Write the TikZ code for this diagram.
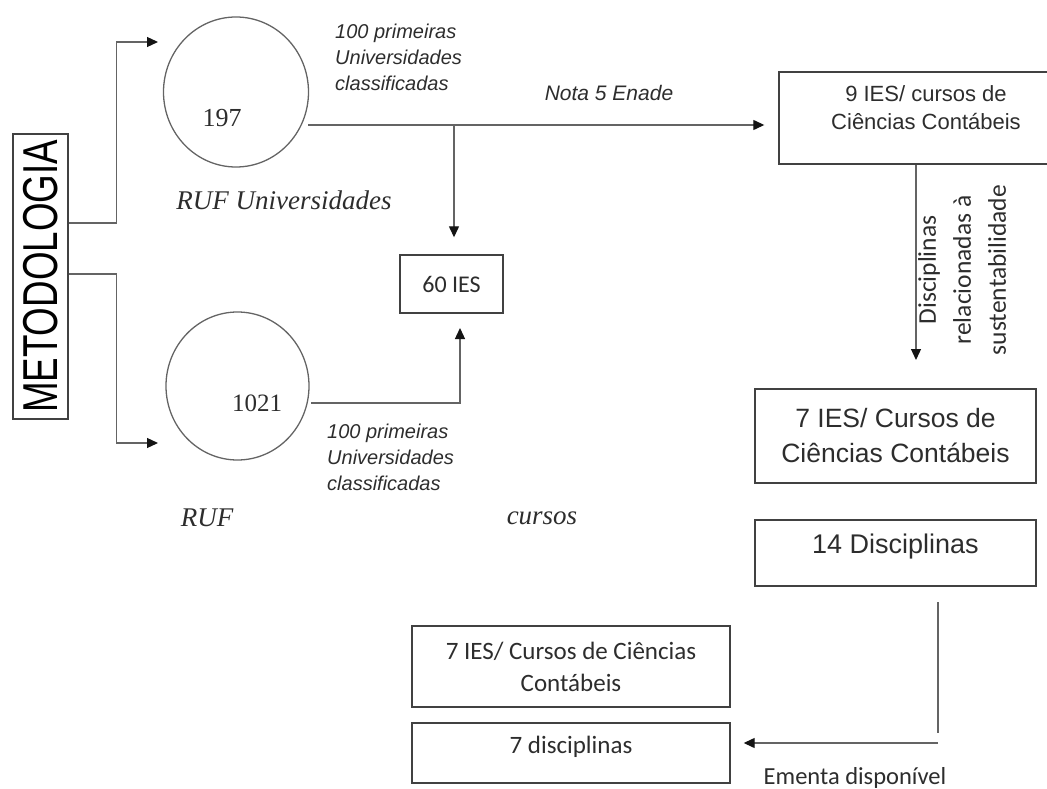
\documentclass[tikz,border=0pt]{standalone}
\usepackage{fontspec}
\setmainfont{Liberation Serif}
\newfontfamily\arial{Liberation Sans}
\newfontfamily\calib{Carlito}
\usetikzlibrary{arrows.meta,shapes.geometric}
\definecolor{linegray}{RGB}{100,100,100}
\definecolor{boxgray}{RGB}{65,65,65}
\definecolor{txtgray}{RGB}{45,45,45}
\definecolor{tipgray}{RGB}{20,20,20}
\begin{document}
\begin{tikzpicture}[x=1pt,y=-1pt,
  conn/.style={draw=linegray,line width=1.3pt},
  arr/.style={conn,-{Triangle[length=11pt,width=10pt,color=tipgray]}},
  boxnode/.style={draw=boxgray,line width=1.4pt,rectangle,inner sep=0pt},
  circnode/.style={draw=linegray,line width=1.3pt,ellipse,inner sep=0pt},
  itlabel/.style={font=\arial\itshape\fontsize{20}{26}\selectfont,text=txtgray,align=left,inner sep=0pt},
  serifit/.style={font=\itshape\fontsize{27}{32}\selectfont,text=txtgray,inner sep=0pt}]
\useasboundingbox (0,0) rectangle (1047,789);
\begin{scope}
\clip (0,0) rectangle (1047,789);
% nodes
\node[boxnode,rotate=90,minimum width=285pt,minimum height=55pt,
      font=\arial\fontsize{49}{55}\selectfont,text=black] (metod) at (40.5,276.5)
      {\scalebox{0.75}[1]{METODOLOGIA}};
\node[circnode,minimum width=145pt,minimum height=150pt] (c197) at (236,92) {};
\node[font=\fontsize{26}{30}\selectfont,text=txtgray] (t197) at (222,118) {197};
\node[circnode,minimum width=143pt,minimum height=148pt] (c1021) at (237.5,386) {};
\node[font=\fontsize{25}{30}\selectfont,text=txtgray] (t1021) at (257,403) {1021};
\node[boxnode,minimum width=103pt,minimum height=58pt,
      font=\calib\fontsize{24}{28}\selectfont,text=txtgray] (ies60) at (451.5,284) {60 IES};
\node[boxnode,minimum width=280pt,minimum height=92pt] (ies9) at (919,118) {};
\node[font=\arial\fontsize{22}{28}\selectfont,align=center,text=txtgray] (t9) at (926,108)
      {9 IES/ cursos de\\Ciências Contábeis};
\node[boxnode,minimum width=281pt,minimum height=94pt,
      font=\arial\fontsize{26.5}{35}\selectfont,align=center,text=txtgray] (ies7r) at (895.5,436)
      {7 IES/ Cursos de\\Ciências Contábeis};
\node[boxnode,minimum width=281pt,minimum height=66pt] (disc14) at (895.5,553) {};
\node[font=\arial\fontsize{27}{32}\selectfont,text=txtgray] (t14) at (895.5,547) {14 Disciplinas};
\node[boxnode,minimum width=318pt,minimum height=81pt,
      font=\calib\fontsize{25}{32}\selectfont,align=center,text=txtgray] (ies7b) at (571,666.5)
      {7 IES/ Cursos de Ciências\\Contábeis};
\node[boxnode,minimum width=318pt,minimum height=60pt] (disc7) at (571,753) {};
\node[font=\calib\fontsize{25}{30}\selectfont,text=txtgray] (t7d) at (571,747) {7 disciplinas};
% labels
\node[itlabel,anchor=north west] (lab1) at (335,24) {100 primeiras\\Universidades\\classificadas};
\node[itlabel,anchor=north west] (lab2) at (327,424) {100 primeiras\\Universidades\\classificadas};
\node[font=\arial\itshape\fontsize{21}{26}\selectfont,text=txtgray] (nota) at (609,93) {Nota 5 Enade};
\node[serifit] (rufu) at (284,200) {RUF Universidades};
\node[serifit] (ruf) at (207,518) {RUF};
\node[serifit] (cursos) at (542,518) {cursos};
\node[rotate=90,font=\calib\fontsize{25.5}{35}\selectfont,align=center,text=txtgray] (disclab) at (962,270)
      {Disciplinas\\relacionadas à\\sustentabilidade};
\node[font=\calib\fontsize{24.5}{30}\selectfont,text=txtgray] (ementa) at (855,778) {Ementa disponível};
% coordinates
\coordinate (p1) at (metod.south |- 0,223);
\coordinate (p1t) at (158,42);
\coordinate (p2) at (metod.south |- 0,274);
\coordinate (p2t) at (158,443);
\coordinate (m0) at (308,125);
\coordinate (b1) at (454,125);
\coordinate (l0) at (311,403);
\coordinate (l1) at (460,328);
\coordinate (v1) at (916,360);
\coordinate (e0) at (938,602);
\coordinate (e1) at (938,733);
\coordinate (e2) at (938,743);
% connectors
\draw[arr] (p1) -- ++(48,0) |- (p1t);
\draw[arr] (p2) -- ++(48,0) |- (p2t);
\draw[arr,shorten >=14pt] (m0) -- (m0 -| ies9.west);
\draw[arr,shorten >=17pt] (b1) -- (b1 |- ies60.north);
\draw[arr] (l0) -| (l1);
\draw[arr] (v1 |- ies9.south) -- (v1);
\draw[conn] (e0) -- (e1);
\draw[arr,shorten >=13pt] (e2) -- (e2 -| disc7.east);
\end{scope}
\end{tikzpicture}
\end{document}
